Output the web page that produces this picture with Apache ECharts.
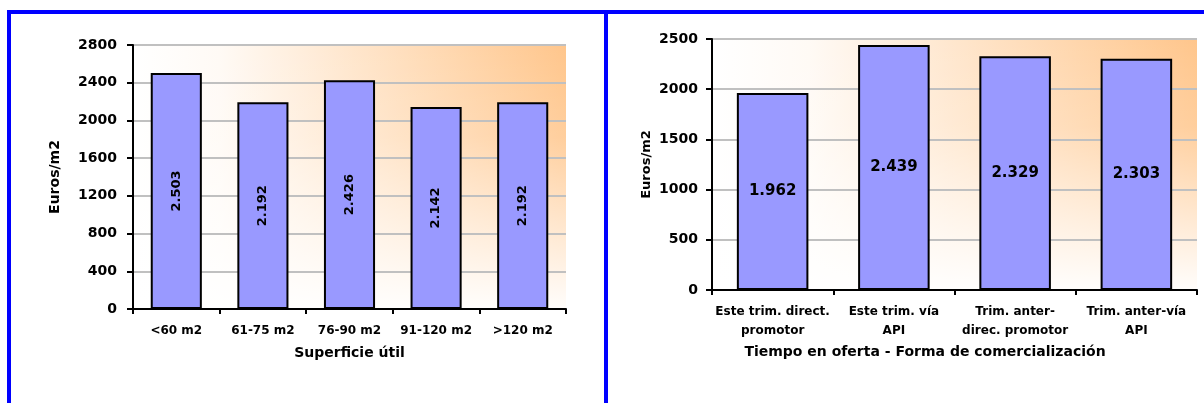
<!DOCTYPE html>
<html>
<head>
<meta charset="utf-8">
<script src="https://cdn.jsdelivr.net/npm/echarts@6/dist/echarts.min.js"></script>
<style>
  html, body { margin: 0; padding: 0; background: #fff; }
  #wrap { position: relative; width: 1204px; height: 403px; overflow: hidden; }
  #chart { position: absolute; left: 0; top: 0; width: 1204px; height: 403px; }
  .frame-top { position: absolute; left: 7px; top: 10px; width: 1197px; height: 4px; background: #0000FF; }
  .frame-left { position: absolute; left: 7px; top: 10px; width: 4px; height: 393px; background: #0000FF; }
  .frame-mid { position: absolute; left: 604px; top: 10px; width: 4px; height: 393px; background: #0000FF; }
</style>
</head>
<body>
<div id="wrap">
  <div id="chart"></div>
  <div class="frame-top"></div>
  <div class="frame-left"></div>
  <div class="frame-mid"></div>
</div>
<script>
// Precio medio por superficie útil
const sizeCategories = ['<60 m2', '61-75 m2', '76-90 m2', '91-120 m2', '>120 m2'];
const sizeValues = [2503, 2192, 2426, 2142, 2192];
const sizeAxisMax = 2800;
const sizeAxisStep = 400;

// Precio medio por tiempo en oferta y forma de comercialización
const channelCategories = ['Este trim. direct.\npromotor', 'Este trim. vía\nAPI', 'Trim. anter-\ndirec. promotor', 'Trim. anter-vía\nAPI'];
const channelValues = [1962, 2439, 2329, 2303];
const channelAxisMax = 2500;
const channelAxisStep = 500;

const FONT = 'DejaVu Sans';
const BAR_FILL = '#9999FF';

// 2503 -> "2.503"
function thousands(v) {
  return String(Math.round(v)).replace(/\B(?=(\d{3})+(?!\d))/g, '.');
}

const warmFill = {
  type: 'linear', x: 0, y: 0, x2: 1, y2: 0,
  colorStops: [
    { offset: 0, color: '#FFFFFF' },
    { offset: 0.2, color: '#FFFAF5' },
    { offset: 0.6, color: '#FFE0C0' },
    { offset: 1, color: '#FFC68C' }
  ]
};
const fadeFill = {
  type: 'linear', x: 0, y: 0, x2: 0, y2: 1,
  colorStops: [
    { offset: 0, color: 'rgba(255,255,255,0)' },
    { offset: 0.35, color: 'rgba(255,255,255,0.15)' },
    { offset: 1, color: 'rgba(255,255,255,0.97)' }
  ]
};

const leftRect = { left: 133, top: 45, width: 433, height: 264 };
const rightRect = { left: 712, top: 39, width: 485, height: 251 };

function valueAxis(gridIndex, max, step, name, nameGap, nameSize, labelMargin) {
  return {
    type: 'value', gridIndex, min: 0, max, interval: step,
    name, nameLocation: 'middle', nameGap,
    nameTextStyle: { fontFamily: FONT, fontWeight: 'bold', fontSize: nameSize, color: '#000' },
    axisLine: { show: true, lineStyle: { color: '#000', width: 2 } },
    axisTick: { show: true, length: 6, lineStyle: { color: '#000', width: 2 } },
    axisLabel: {
      fontFamily: FONT, fontWeight: 'bold', fontSize: 14, color: '#000', margin: labelMargin,
      formatter: v => String(v)
    },
    splitLine: { show: true, lineStyle: { color: '#C0C0C0', width: 2 } }
  };
}

function categoryAxis(gridIndex, data, name, nameGap, labelSize, labelMargin, namePadding, lineHeight) {
  return {
    type: 'category', gridIndex, data,
    name, nameLocation: 'middle', nameGap,
    nameTextStyle: { fontFamily: FONT, fontWeight: 'bold', fontSize: 14, color: '#000', padding: namePadding },
    axisLine: { show: true, lineStyle: { color: '#000', width: 2 } },
    axisTick: { show: true, length: 5, lineStyle: { color: '#000', width: 2 } },
    axisLabel: { interval: 0, fontFamily: FONT, fontWeight: 'bold', fontSize: labelSize, color: '#000', margin: labelMargin, lineHeight },
    splitLine: { show: false }
  };
}

// Extra grids only carry the vertical fade over the warm background.
function hiddenAxes(gridIndex) {
  return {
    x: { type: 'value', gridIndex, show: false, splitLine: { show: false } },
    y: { type: 'value', gridIndex, show: false, splitLine: { show: false } }
  };
}

const hidL = hiddenAxes(2);
const hidR = hiddenAxes(3);

const option = {
  animation: false,
  backgroundColor: '#FFFFFF',
  grid: [
    Object.assign({ show: true, borderWidth: 0, backgroundColor: warmFill }, leftRect),
    Object.assign({ show: true, borderWidth: 0, backgroundColor: warmFill }, rightRect),
    Object.assign({ show: true, borderWidth: 0, backgroundColor: fadeFill }, leftRect),
    Object.assign({ show: true, borderWidth: 0, backgroundColor: fadeFill }, rightRect)
  ],
  xAxis: [
    categoryAxis(0, sizeCategories, 'Superficie útil', 37, 12, 15, [0, 0, 0, 0], 14),
    categoryAxis(1, channelCategories, 'Tiempo en oferta - Forma de comercialización', 55, 12, 12, [0, 59, 0, 0], 19),
    hidL.x, hidR.x
  ],
  yAxis: [
    valueAxis(0, sizeAxisMax, sizeAxisStep, 'Euros/m2', 71, 14, 16),
    valueAxis(1, channelAxisMax, channelAxisStep, 'Euros/m2', 59, 13, 14),
    hidL.y, hidR.y
  ],
  series: [
    {
      type: 'bar', xAxisIndex: 0, yAxisIndex: 0,
      data: sizeValues,
      barCategoryGap: '41%',
      itemStyle: { color: BAR_FILL, borderColor: '#000', borderWidth: 2 },
      label: {
        show: true, position: 'inside', rotate: 90,
        fontFamily: FONT, fontWeight: 'bold', fontSize: 13, color: '#000',
        formatter: p => thousands(p.value)
      }
    },
    {
      type: 'bar', xAxisIndex: 1, yAxisIndex: 1,
      data: channelValues,
      barCategoryGap: '41%',
      itemStyle: { color: BAR_FILL, borderColor: '#000', borderWidth: 2 },
      label: {
        show: true, position: 'inside',
        fontFamily: FONT, fontWeight: 'bold', fontSize: 15, color: '#000',
        formatter: p => thousands(p.value)
      }
    }
  ]
};

const chart = echarts.init(document.getElementById('chart'), null, { renderer: 'canvas' });
chart.setOption(option);
</script>
</body>
</html>
